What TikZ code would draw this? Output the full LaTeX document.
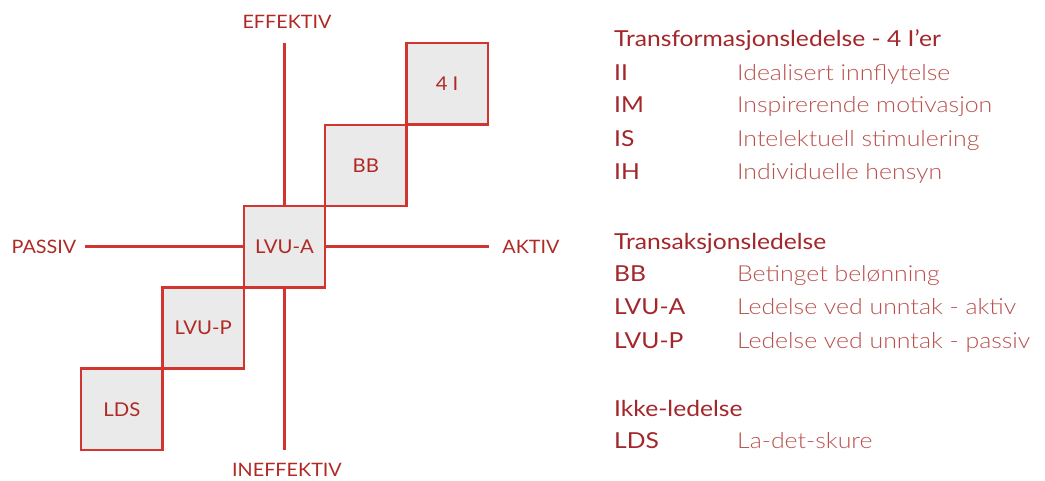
\documentclass[tikz,border=0pt]{standalone}
\usepackage{fontspec}
\setmainfont{Lato}
\newfontfamily\headfont{Lato}[FakeStretch=1.12]
\newfontfamily\lightfont{Lato Light}[FakeStretch=1.13]
\newfontfamily\labfont{Lato}[FakeStretch=1.07]
\definecolor{linered}{HTML}{D2352F}
\definecolor{labred}{HTML}{B02A25}
\definecolor{headred}{HTML}{A3262A}
\definecolor{descred}{HTML}{B9504D}
\definecolor{boxgray}{HTML}{EAEAEA}
\begin{document}
\begin{tikzpicture}[x=1pt,y=-1pt,
  axis/.style={draw=linered, line width=2.6pt},
  sq/.style={draw=linered, line width=2.4pt, fill=boxgray, minimum size=81.3pt, inner sep=0pt, text=labred, font=\labfont\fontsize{19}{19}\selectfont},
  axlab/.style={text=labred, inner sep=0pt, font=\labfont\fontsize{18.5}{18.5}\selectfont},
  head/.style={anchor=base west, inner sep=0pt, text=headred, font=\headfont\fontsize{22}{22}\selectfont},
  desc/.style={anchor=base west, inner sep=0pt, text=descred, font=\lightfont\fontsize{22}{22}\selectfont}]
\useasboundingbox (0,0) rectangle (1045,480);
% axes
\coordinate (top) at (284.5,43.3);
\coordinate (bot) at (284.5,450);
\coordinate (left) at (85,246.7);
\coordinate (right) at (489,246.7);
\draw[axis] (top) -- (bot);
\draw[axis] (left) -- (right);
% squares
\node[sq] (s4i) at (447.1,83.8) {4 I};
\node[sq] (sbb) at (365.8,165.4) {BB};
\node[sq] (slvua) at (284.5,246.7) {LVU-A};
\node[sq] (slvup) at (203.2,328.0) {LVU-P};
\node[sq] (slds) at (121.9,409.3) {LDS};
% axis labels
\node[axlab] (leff) at (287,22.3) {EFFEKTIV};
\node[axlab] (lineff) at (287,469.5) {INEFFEKTIV};
\node[axlab] (lpas) at (44,247) {PASSIV};
\node[axlab] (lakt) at (531,247) {AKTIV};
% legend
\node[head] (h1) at (614,46.7) {Transformasjonsledelse - 4 I’er};
\node[head] (a1) at (614,80) {II};
\node[desc] (d1) at (737,80) {Idealisert innflytelse};
\node[head] (a2) at (614,112.5) {IM};
\node[desc] (d2) at (737,112.5) {Inspirerende motivasjon};
\node[head] (a3) at (614,146) {IS};
\node[desc] (d3) at (737,146) {Intelektuell stimulering};
\node[head] (a4) at (614,179.5) {IH};
\node[desc] (d4) at (737,179.5) {Individuelle hensyn};
\node[head] (h2) at (614,249) {Transaksjonsledelse};
\node[head] (a5) at (614,281) {BB};
\node[desc] (d5) at (737,281) {Betinget belønning};
\node[head] (a6) at (614,314) {LVU-A};
\node[desc] (d6) at (737,314) {Ledelse ved unntak - aktiv};
\node[head] (a7) at (614,348) {LVU-P};
\node[desc] (d7) at (737,348) {Ledelse ved unntak - passiv};
\node[head] (h3) at (614,416) {Ikke-ledelse};
\node[head] (a8) at (614,448) {LDS};
\node[desc] (d8) at (737,448) {La-det-skure};
\end{tikzpicture}
\end{document}
